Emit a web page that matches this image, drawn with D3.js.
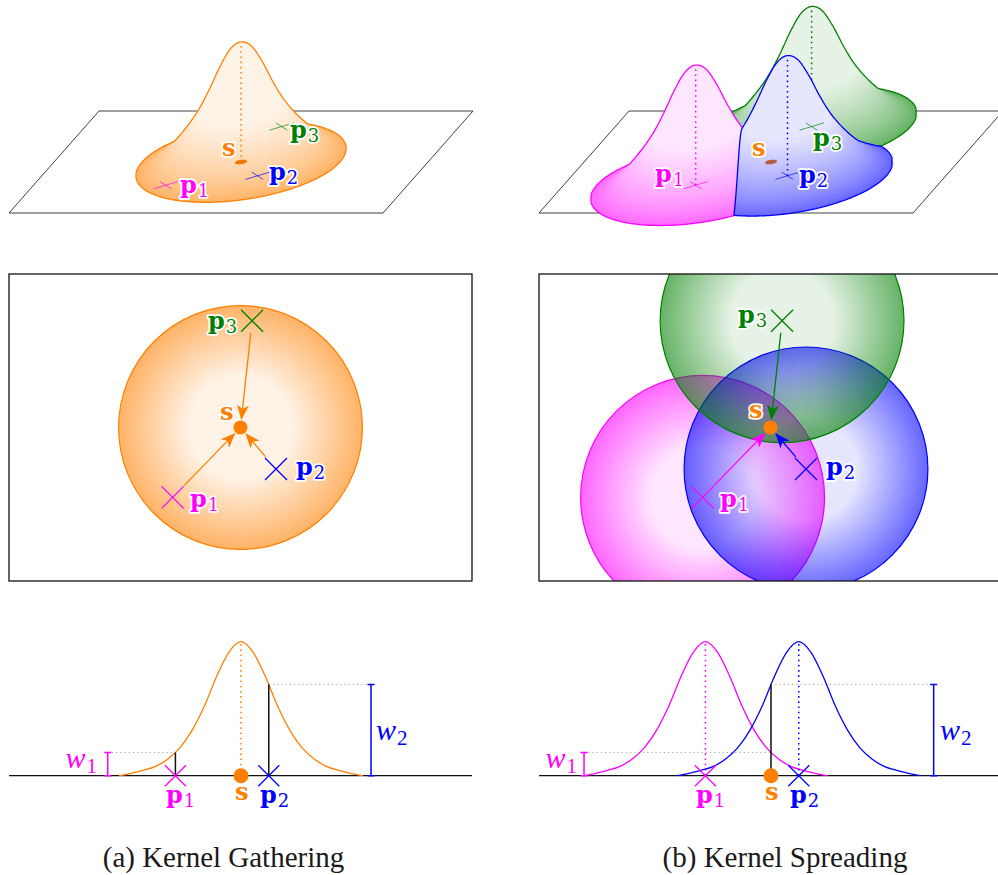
<!DOCTYPE html>
<html>
<head>
<meta charset="utf-8">
<script src="https://cdn.jsdelivr.net/npm/d3@7"></script>
<style>
  body { margin: 0; background: #fff; }
  svg { display: block; }
</style>
</head>
<body>
<script>
// ---------------- data ----------------
// Sample position s and points p1..p3 on the plane (plane units, y up)
const pointNames  = ["s", "p1", "p2", "p3"];
const pointX      = [3.00, 2.12, 3.46, 3.15];
const pointY      = [2.00, 1.09, 1.46, 3.39];
const pointColors = ["#ff8000", "#ff00ff", "#0000ff", "#008000"];

// Kernel support radius (plane units)
const kernelRadius = 1.58;

// Kernel profile: height at fraction of the support radius
const kernelSteps    = [0, 0.1, 0.2, 0.3, 0.4, 0.5, 0.6, 0.7, 0.8, 0.9, 1.0];
const sliceHeights   = [1, 0.92, 0.74, 0.52, 0.34, 0.21, 0.125, 0.07, 0.04, 0.018, 0];
const surfaceHeights = [1, 0.95, 0.81, 0.63, 0.47, 0.345, 0.24, 0.15, 0.08, 0.03, 0];

// 1-D cross-section: signed offsets along the slice (plane units)
const sliceNames   = ["p1", "s", "p2"];
const sliceOffsets = [-0.85, 0, 0.36];

const weightNames = ["w1", "w2"];
const captions    = ["(a) Kernel Gathering", "(b) Kernel Spreading"];

// ---------------- setup ----------------
const svg = d3.select("body").append("svg").attr("width", 998).attr("height", 875);
const defs = svg.append("defs");
const panelOffsets = [0, 530];
const colorOf = name => pointColors[pointNames.indexOf(name)];

// top view box scales
const boxX = d3.scaleLinear().domain([0, 6]).range([9, 472]);
const boxY = d3.scaleLinear().domain([0, 4]).range([581, 274]);
const unitPx = boxX(1) - boxX(0);

// oblique projection of the plane (3-D view)
const planeU = d3.scaleLinear().domain([0, 6]).range([0, 1]);
const planeV = d3.scaleLinear().domain([4, 0]).range([0, 1]);
const heightPx = 119.5;
function project(wx, wy, z, ox) {
  const u = planeU(wx), v = planeV(wy);
  return [ox + 99 + 374 * u - 90 * v, 111 + 102 * v - z * heightPx];
}

// slice scales
const sliceX = d3.scaleLinear().domain([-1, 1]).range([241 - unitPx, 241 + unitPx]);
const sliceY = d3.scaleLinear().domain([0, 1]).range([775.7, 641.7]);

// smooth (Catmull-Rom) profile through the samples
function profile(heights) {
  const n = heights.length - 1;
  const h = k => (k < 0 ? heights[-k] : k > n ? 0 : heights[k]);
  return t => {
    t = Math.abs(t);
    if (t >= 1) return 0;
    const f = t * n, i = Math.floor(f), u = f - i;
    const p0 = h(i - 1), p1 = h(i), p2 = h(i + 1), p3 = h(i + 2);
    const m1 = (p2 - p0) / 2, m2 = (p3 - p1) / 2;
    const u2 = u * u, u3 = u2 * u;
    return Math.max(0, (2 * u3 - 3 * u2 + 1) * p1 + (u3 - 2 * u2 + u) * m1 +
                       (-2 * u3 + 3 * u2) * p2 + (u3 - u2) * m2);
  };
}
const sliceKernel = profile(sliceHeights);
const surfaceKernel = profile(surfaceHeights);

// opacity of the kernel colour at fraction t of the radius
const alphaAt = t => (t <= 0.42 ? 0.1 : 0.1 + 0.5 * (t - 0.42) / 0.58);

const closedLine = d3.line().curve(d3.curveLinearClosed);
const openLine = d3.line();

const serif = "'DejaVu Serif', serif";

// arrowheads and radial gradients per colour
pointColors.forEach((c, i) => {
  defs.append("marker")
    .attr("id", "arrow" + i)
    .attr("viewBox", "0 0 15 12")
    .attr("refX", 14).attr("refY", 6)
    .attr("markerWidth", 15).attr("markerHeight", 12)
    .attr("markerUnits", "userSpaceOnUse")
    .attr("orient", "auto")
    .append("path")
    .attr("d", "M0,0 L15,6 L0,12 L4,6 Z")
    .attr("fill", c);

  const grad = defs.append("radialGradient").attr("id", "grad" + i);
  [0, 0.42, 1].forEach(o => {
    grad.append("stop")
      .attr("offset", o)
      .attr("stop-color", c)
      .attr("stop-opacity", alphaAt(o));
  });
});

function label(g, x, y, name, color, halo) {
  const t = g.append("text")
    .attr("x", x).attr("y", y)
    .attr("font-family", serif)
    .attr("font-weight", "bold")
    .attr("font-size", 24)
    .attr("fill", color);
  if (halo) {
    t.attr("stroke", "#fff").attr("stroke-width", 3.5)
     .attr("stroke-linejoin", "round").attr("paint-order", "stroke");
  }
  t.append("tspan").text(name[0]);
  if (name.length > 1) {
    t.append("tspan").attr("font-weight", "normal").attr("font-size", 18)
      .attr("dx", 1).attr("dy", 4).text(name.slice(1));
  }
}

function weightLabel(g, x, y, name, color, anchor) {
  const t = g.append("text")
    .attr("x", x).attr("y", y)
    .attr("text-anchor", anchor)
    .attr("font-family", "'Liberation Serif', serif")
    .attr("font-style", "italic")
    .attr("font-size", 30)
    .attr("fill", color);
  t.append("tspan").text(name[0]);
  t.append("tspan").attr("font-style", "normal").attr("font-size", 21)
    .attr("dx", 1).attr("dy", 4.5).text(name.slice(1));
}

// ---------------- 3-D surface views ----------------
// keep the part of a polygon with a·x <= b
function clipHalf(poly, a, b) {
  const out = [];
  for (let k = 0; k < poly.length; k++) {
    const P = poly[k], Q = poly[(k + 1) % poly.length];
    const fp = a[0] * P[0] + a[1] * P[1] - b;
    const fq = a[0] * Q[0] + a[1] * Q[1] - b;
    if (fp <= 0) out.push(P);
    if ((fp <= 0) !== (fq <= 0)) {
      const s = fp / (fp - fq);
      out.push([P[0] + s * (Q[0] - P[0]), P[1] + s * (Q[1] - P[1])]);
    }
  }
  return out;
}

// level set of kernel i at fraction t, limited to the region where kernel i dominates
function cellDisc(i, t, halfs, n) {
  const R = kernelRadius * t;
  let poly = d3.range(n).map(j => {
    const th = 2 * Math.PI * j / n;
    return [pointX[i] + R * Math.cos(th), pointY[i] + R * Math.sin(th)];
  });
  halfs.forEach(([a, b]) => { if (poly.length) poly = clipHalf(poly, a, b); });
  return poly;
}

function densify(poly, step) {
  const out = [];
  for (let k = 0; k < poly.length; k++) {
    const P = poly[k], Q = poly[(k + 1) % poly.length];
    const n = Math.max(1, Math.ceil(Math.hypot(Q[0] - P[0], Q[1] - P[1]) / step));
    for (let s = 0; s < n; s++) out.push([P[0] + (Q[0] - P[0]) * s / n, P[1] + (Q[1] - P[1]) * s / n]);
  }
  return out;
}

function drawBump(g, i, halfs, ox) {
  const color = pointColors[i];
  const levels = 170;
  for (let k = 0; k < levels; k++) {
    const t = 1 - k / levels;
    const poly = cellDisc(i, t, halfs, 240);
    if (poly.length < 3) continue;
    const z = surfaceKernel(t);
    const fill = d3.interpolateRgb("#ffffff", color)(alphaAt(t));
    g.append("path")
      .attr("d", closedLine(poly.map(p => project(p[0], p[1], z, ox))))
      .attr("fill", fill);
  }
  // silhouette of the visible patch
  const bins = new Map();
  for (let k = 0; k <= 160; k++) {
    const t = k / 160;
    const z = surfaceKernel(t);
    const poly = cellDisc(i, t, halfs, 240);
    if (!poly.length) continue;
    densify(poly, 0.005).forEach(p => {
      const [x, y] = project(p[0], p[1], z, ox);
      const b = Math.round(x);
      const e = bins.get(b);
      if (!e) bins.set(b, [y, y]);
      else { if (y < e[0]) e[0] = y; if (y > e[1]) e[1] = y; }
    });
  }
  const keys = Array.from(bins.keys()).sort((a, b) => a - b);
  const outline = keys.map(b => [b, bins.get(b)[0]])
    .concat(keys.slice().reverse().map(b => [b, bins.get(b)[1]]));
  g.append("path").attr("d", closedLine(outline))
    .attr("fill", "none").attr("stroke", color).attr("stroke-width", 1.3)
    .attr("stroke-linejoin", "round");
  // dotted axis up to the peak
  g.append("path")
    .attr("d", openLine([project(pointX[i], pointY[i], 0, ox), project(pointX[i], pointY[i], 1, ox)]))
    .attr("stroke", color).attr("stroke-width", 1.5)
    .attr("stroke-dasharray", "1.6 3.6").attr("fill", "none");
}

function drawSurfacePanel(ox, bumpIdx, dotColor, labelPos) {
  const g = svg.append("g");
  const corners = [[0, 4], [6, 4], [6, 0], [0, 0]].map(([x, y]) => project(x, y, 0, ox));
  g.append("path").attr("d", closedLine(corners))
    .attr("fill", "none").attr("stroke", "#2a2a2a").attr("stroke-width", 0.9);

  bumpIdx.forEach(i => {
    const halfs = bumpIdx.filter(j => j !== i).map(j => [
      [pointX[j] - pointX[i], pointY[j] - pointY[i]],
      (pointX[j] ** 2 + pointY[j] ** 2 - pointX[i] ** 2 - pointY[i] ** 2) / 2
    ]);
    drawBump(g, i, halfs, ox);
  });

  // sample position on the plane
  const dr = 7 / unitPx;
  const dot = d3.range(48).map(j => {
    const th = 2 * Math.PI * j / 48;
    return project(pointX[0] + dr * Math.cos(th), pointY[0] + dr * Math.sin(th), 0, ox);
  });
  g.append("path").attr("d", closedLine(dot)).attr("fill", dotColor);

  // crosses lying on the plane
  const a = 11 / unitPx;
  [1, 2, 3].forEach(i => {
    const x = pointX[i], y = pointY[i];
    [[[x - a, y - a], [x + a, y + a]], [[x - a, y + a], [x + a, y - a]]].forEach(seg => {
      g.append("path")
        .attr("d", openLine(seg.map(p => project(p[0], p[1], 0, ox))))
        .attr("stroke", pointColors[i]).attr("stroke-width", 0.9)
        .attr("stroke-opacity", 0.75);
    });
  });

  pointNames.forEach((n, i) => {
    const [lx, ly] = labelPos[i];
    label(g, ox + lx, ly, n, pointColors[i], true);
  });
}

drawSurfacePanel(panelOffsets[0], [0], "#f27500",
  [[222, 156], [180, 193], [269, 180], [290, 138]]);
drawSurfacePanel(panelOffsets[1], [3, 1, 2], "#b85a3c",
  [[222, 156], [125, 181.5], [269, 183], [283, 146]]);

// ---------------- top views ----------------
function drawTopPanel(ox, circleIdx, arrowColorIdx, labelPos, clipId) {
  const g = svg.append("g");
  defs.append("clipPath").attr("id", clipId)
    .append("rect").attr("x", ox + boxX(0)).attr("y", boxY(4))
    .attr("width", boxX(6) - boxX(0)).attr("height", boxY(0) - boxY(4));

  const cg = g.append("g").attr("clip-path", `url(#${clipId})`);
  circleIdx.forEach(i => {
    cg.append("circle")
      .attr("cx", ox + boxX(pointX[i])).attr("cy", boxY(pointY[i]))
      .attr("r", kernelRadius * unitPx)
      .attr("fill", `url(#grad${i})`)
      .attr("stroke", pointColors[i]).attr("stroke-width", 1.2);
  });

  g.append("rect")
    .attr("x", ox + boxX(0)).attr("y", boxY(4))
    .attr("width", boxX(6) - boxX(0)).attr("height", boxY(0) - boxY(4))
    .attr("fill", "none").attr("stroke", "#111").attr("stroke-width", 1.3);

  const sx = ox + boxX(pointX[0]), sy = boxY(pointY[0]);
  [1, 2, 3].forEach(i => {
    const px = ox + boxX(pointX[i]), py = boxY(pointY[i]);
    const dx = sx - px, dy = sy - py, len = Math.hypot(dx, dy);
    const ux = dx / len, uy = dy / len;
    const gap = 12 / Math.max(Math.abs(ux), Math.abs(uy));
    const ci = arrowColorIdx[i];
    g.append("line")
      .attr("x1", px + ux * gap).attr("y1", py + uy * gap)
      .attr("x2", sx - ux * 8.5).attr("y2", sy - uy * 8.5)
      .attr("stroke", pointColors[ci]).attr("stroke-width", 1.3)
      .attr("marker-end", `url(#arrow${ci})`);
  });

  g.append("circle").attr("cx", sx).attr("cy", sy).attr("r", 7).attr("fill", pointColors[0]);

  const a = 11;
  [1, 2, 3].forEach(i => {
    const px = ox + boxX(pointX[i]), py = boxY(pointY[i]);
    g.append("path")
      .attr("d", `M${px - a},${py - a}L${px + a},${py + a}M${px - a},${py + a}L${px + a},${py - a}`)
      .attr("stroke", pointColors[i]).attr("stroke-width", 1.3).attr("fill", "none");
  });

  pointNames.forEach((n, i) => {
    const [lx, ly] = labelPos[i];
    label(g, ox + lx, ly, n, pointColors[i], true);
  });
}

drawTopPanel(panelOffsets[0], [0], [0, 0, 0, 0],
  [[220, 420], [190, 506.5], [296, 475], [208, 329]], "clipA");
drawTopPanel(panelOffsets[1], [1, 2, 3], [0, 1, 2, 3],
  [[219, 417.5], [190, 506.5], [296, 475], [208, 323]], "clipB");

// ---------------- 1-D cross-sections ----------------
const sliceOf = n => sliceOffsets[sliceNames.indexOf(n)];
const curveLine = d3.line().curve(d3.curveCardinal.tension(0));

function kernelCurve(g, ox, center, color) {
  const R = kernelRadius;
  const pts = [];
  for (let k = kernelSteps.length - 1; k > 0; k--) pts.push([center - kernelSteps[k] * R, sliceHeights[k]]);
  for (let k = 0; k < kernelSteps.length; k++) pts.push([center + kernelSteps[k] * R, sliceHeights[k]]);
  g.append("path")
    .attr("d", curveLine(pts.map(([x, h]) => [ox + sliceX(x), sliceY(h)])))
    .attr("fill", "none").attr("stroke", color).attr("stroke-width", 1.3);
  g.append("line")
    .attr("x1", ox + sliceX(center)).attr("x2", ox + sliceX(center))
    .attr("y1", sliceY(0)).attr("y2", sliceY(1))
    .attr("stroke", color).attr("stroke-width", 1.5).attr("stroke-dasharray", "1.6 3.6");
}

function guide(g, ox, x1, x2, h) {
  g.append("line")
    .attr("x1", ox + sliceX(x1)).attr("x2", ox + sliceX(x2))
    .attr("y1", sliceY(h)).attr("y2", sliceY(h))
    .attr("stroke", "#a8a8a8").attr("stroke-width", 1).attr("stroke-dasharray", "1.2 3");
}

function stem(g, ox, x, h) {
  g.append("line")
    .attr("x1", ox + sliceX(x)).attr("x2", ox + sliceX(x))
    .attr("y1", sliceY(0)).attr("y2", sliceY(h))
    .attr("stroke", "#111").attr("stroke-width", 1.5);
}

function bracket(g, ox, x, h, color) {
  const px = ox + sliceX(x), y0 = sliceY(0), y1 = sliceY(h);
  g.append("path")
    .attr("d", `M${px},${y0}L${px},${y1}M${px - 3.5},${y0}L${px + 3.5},${y0}M${px - 3.5},${y1}L${px + 3.5},${y1}`)
    .attr("stroke", color).attr("stroke-width", 1.5).attr("fill", "none");
}

function sliceMarks(g, ox, labelPos) {
  const a = 10.5, y0 = sliceY(0);
  ["p1", "p2"].forEach(n => {
    const px = ox + sliceX(sliceOf(n));
    g.append("path")
      .attr("d", `M${px - a},${y0 - a}L${px + a},${y0 + a}M${px - a},${y0 + a}L${px + a},${y0 - a}`)
      .attr("stroke", colorOf(n)).attr("stroke-width", 1.3).attr("fill", "none");
  });
  g.append("circle").attr("cx", ox + sliceX(sliceOf("s"))).attr("cy", y0).attr("r", 7.5)
    .attr("fill", colorOf("s"));
  sliceNames.forEach((n, i) => label(g, ox + labelPos[i][0], labelPos[i][1], n, colorOf(n), false));
}

const w1 = sliceKernel((sliceOf("s") - sliceOf("p1")) / kernelRadius);
const w2 = sliceKernel((sliceOf("p2") - sliceOf("s")) / kernelRadius);
const sliceLabelPos = [[166, 803], [235, 800], [260, 803]];

// (a) gathering: kernel centred on s
{
  const ox = panelOffsets[0];
  const g = svg.append("g");
  g.append("line").attr("x1", 9).attr("x2", 472).attr("y1", sliceY(0)).attr("y2", sliceY(0))
    .attr("stroke", "#111").attr("stroke-width", 1.3);
  kernelCurve(g, ox, sliceOf("s"), colorOf("s"));
  guide(g, ox, -1.727, sliceOf("p1"), w1);
  guide(g, ox, sliceOf("p2"), 1.685, w2);
  stem(g, ox, sliceOf("p1"), w1);
  stem(g, ox, sliceOf("p2"), w2);
  bracket(g, ox, -1.727, w1, colorOf("p1"));
  bracket(g, ox, 1.685, w2, colorOf("p2"));
  weightLabel(g, 97, 768, weightNames[0], colorOf("p1"), "end");
  weightLabel(g, 376, 740, weightNames[1], colorOf("p2"), "start");
  sliceMarks(g, ox, sliceLabelPos);
}

// (b) spreading: kernels centred on p1 and p2
{
  const ox = panelOffsets[1];
  const g = svg.append("g");
  g.append("line").attr("x1", ox + 9).attr("x2", ox + 472).attr("y1", sliceY(0)).attr("y2", sliceY(0))
    .attr("stroke", "#111").attr("stroke-width", 1.3);
  guide(g, ox, -2.423, sliceOf("s"), w1);
  guide(g, ox, sliceOf("s"), 2.108, w2);
  kernelCurve(g, ox, sliceOf("p1"), colorOf("p1"));
  kernelCurve(g, ox, sliceOf("p2"), colorOf("p2"));
  stem(g, ox, sliceOf("s"), w2);
  bracket(g, ox, -2.423, w1, colorOf("p1"));
  bracket(g, ox, 2.108, w2, colorOf("p2"));
  weightLabel(g, 577, 768, weightNames[0], colorOf("p1"), "end");
  weightLabel(g, 940, 740, weightNames[1], colorOf("p2"), "start");
  sliceMarks(g, ox, sliceLabelPos);
}

// ---------------- captions ----------------
svg.selectAll("text.caption")
  .data(captions)
  .join("text")
  .attr("class", "caption")
  .attr("x", (d, i) => [223.5, 785][i])
  .attr("y", 867)
  .attr("text-anchor", "middle")
  .attr("font-family", "'Liberation Serif', serif")
  .attr("font-size", 29)
  .attr("fill", "#1a1a1a")
  .text(d => d);
</script>
</body>
</html>
